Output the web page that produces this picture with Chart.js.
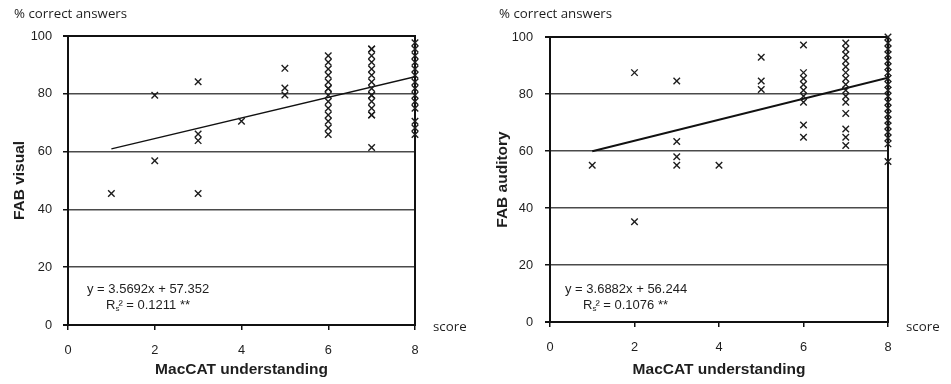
<!DOCTYPE html>
<html lang="en">
<head>
  <meta charset="UTF-8">
  <title>FAB x MacCAT</title>
  <script src="https://cdn.jsdelivr.net/npm/chart.js"></script>
  <style>
    body { margin: 0; background: #fff; }
    .painel { position: absolute; top: 0; width: 475px; height: 384px; }
    #painelVisual { left: 0; }
    #painelAuditory { left: 476px; }
  </style>
</head>
<body>

<div class="painel" id="painelVisual"><canvas id="graficoVisual" width="475" height="384"></canvas></div>
<div class="painel" id="painelAuditory"><canvas id="graficoAuditory" width="475" height="384"></canvas></div>

<script>
  // MacCAT understanding score levels (x)
  const scoreLevels = [1, 2, 3, 4, 5, 6, 7, 8];

  // FAB visual, % correct answers at each score
  const visualAtScore = [
    [45.5],
    [79.5, 56.8],
    [84.2, 66.1, 63.8, 45.5],
    [70.5],
    [88.8, 82.0, 79.6],
    [93.2, 90.9, 88.6, 86.4, 84.1, 81.8, 81.8, 79.5, 77.3, 75.0, 72.7, 70.5, 68.2, 65.9],
    [95.5, 95.5, 93.2, 90.9, 88.6, 86.4, 84.1, 81.8, 79.5, 79.5, 77.3, 75.0, 72.7, 72.7, 61.4],
    [97.7, 95.5, 93.2, 90.9, 88.6, 86.4, 84.1, 81.8, 79.5, 77.3, 75.0, 70.5, 68.2, 65.9]
  ];

  // FAB auditory, % correct answers at each score
  const auditoryAtScore = [
    [55.0],
    [87.5, 35.2],
    [84.6, 63.3, 58.0, 55.0],
    [55.0],
    [92.9, 84.6, 81.6],
    [97.2, 87.5, 85.4, 83.3, 81.3, 79.2, 77.1, 69.1, 64.8],
    [97.9, 95.8, 93.8, 91.7, 89.6, 87.5, 85.4, 83.3, 81.3, 79.2, 77.1, 73.2, 67.7, 64.8, 61.9],
    [100, 97.9, 95.8, 93.8, 91.7, 89.6, 87.5, 85.4, 83.3, 81.3, 79.2, 77.1, 75.0, 72.9, 70.8, 68.8, 66.7, 64.6, 62.5, 56.3]
  ];

  // regression lines (slope, intercept) as printed in the figure
  const visualFit = [3.5692, 57.352];
  const auditoryFit = [3.6882, 56.244];
  const fitRange = [1, 8];

  const xTicks = [0, 2, 4, 6, 8];
  const yTicks = [0, 20, 40, 60, 80, 100];

  const tinta = '#1e1e1e';

  function pontos(lista) {
    return scoreLevels.flatMap((s, i) => lista[i].map(v => ({ x: s, y: v })));
  }

  function reta(fit) {
    return fitRange.map(x => ({ x: x, y: fit[0] * x + fit[1] }));
  }

  // frame, unit labels and equation text
  const extras = {
    id: 'extras',
    beforeDatasetsDraw(chart) {
      const { ctx, chartArea: a } = chart;
      ctx.save();
      ctx.strokeStyle = '#111';
      ctx.lineWidth = 2;
      ctx.strokeRect(a.left, a.top, a.right - a.left, a.bottom - a.top);
      ctx.restore();
    },
    afterDraw(chart, args, o) {
      const { ctx, chartArea: a } = chart;
      ctx.save();
      ctx.fillStyle = tinta;
      ctx.textBaseline = 'middle';
      ctx.font = '13.3px "Open Sans"';
      ctx.fillText('% correct answers', o.unitX, 14);
      ctx.fillText('score', a.right + 18, 327);

      ctx.font = '13px "Liberation Sans", Arial';
      ctx.fillText(o.eq, a.left + o.eqX, 289);
      let x = a.left + o.rX;
      const y = 305;
      ctx.fillText('R', x, y);
      x += ctx.measureText('R').width;
      ctx.font = '8px "Liberation Sans", Arial';
      ctx.fillText('s', x, y + 4);
      x += ctx.measureText('s').width - 1;
      ctx.font = '13px "Liberation Sans", Arial';
      ctx.fillText('\u00b2 = ' + o.r2, x, y);
      ctx.restore();
    }
  };

  function criarGrafico(id, valores, fit, cfg) {
    const ctx = document.getElementById(id).getContext('2d');
    return new Chart(ctx, {
      type: 'scatter',
      data: {
        datasets: [{
          data: pontos(valores),
          clip: false,
          pointStyle: 'crossRot',
          pointRadius: 4.6,
          pointBorderWidth: 1.4,
          borderColor: tinta,
          backgroundColor: 'rgba(0,0,0,0)'
        }, {
          data: reta(fit),
          showLine: true,
          pointRadius: 0,
          borderColor: '#111',
          borderWidth: cfg.lineW
        }]
      },
      options: {
        responsive: false,
        animation: false,
        layout: { padding: { left: 0, top: cfg.top, right: cfg.right, bottom: 0 } },
        plugins: {
          legend: { display: false },
          tooltip: { enabled: false },
          extras: cfg.extras
        },
        scales: {
          x: {
            type: 'linear',
            min: 0,
            max: 8,
            afterBuildTicks: s => { s.ticks = xTicks.map(v => ({ value: v })); },
            afterFit: s => { s.height = cfg.xh; },
            grid: { drawOnChartArea: false, tickLength: 5, color: '#111', lineWidth: 1.5 },
            border: { color: '#111', width: 2 },
            ticks: { color: tinta, padding: 13, font: { family: '"Liberation Sans", Arial', size: 12.8 } },
            title: {
              display: true,
              text: 'MacCAT understanding',
              color: tinta,
              padding: { top: 0, bottom: 5 },
              font: { family: '"Liberation Sans", Arial', size: 15.5, weight: 'bold' }
            }
          },
          y: {
            min: 0,
            max: 100,
            afterBuildTicks: s => { s.ticks = yTicks.map(v => ({ value: v })); },
            afterFit: s => { s.width = cfg.yw; },
            grid: {
              color: c => (c.tick && (c.tick.value === 0 || c.tick.value === 100)) ? '#111' : '#4a4a4a',
              lineWidth: c => (c.tick && (c.tick.value === 0 || c.tick.value === 100)) ? 2 : 1.5,
              tickColor: '#111',
              tickLength: 5
            },
            border: { color: '#111', width: 2 },
            ticks: { color: tinta, padding: cfg.yPad, font: { family: '"Liberation Sans", Arial', size: 12.8 } },
            title: {
              display: true,
              text: cfg.yTitle,
              color: tinta,
              padding: { top: cfg.yTitlePad, bottom: 0 },
              font: { family: '"Liberation Sans", Arial', size: 15.5, weight: 'bold' }
            }
          }
        }
      },
      plugins: [extras]
    });
  }

  criarGrafico('graficoVisual', visualAtScore, visualFit, {
    top: 36, right: 60, xh: 59, yw: 68, yPad: 11, yTitlePad: 10.7, lineW: 1.3,
    yTitle: 'FAB visual',
    extras: { unitX: 14, eq: 'y = 3.5692x + 57.352', eqX: 19, rX: 38, r2: '0.1211 **' }
  });

  criarGrafico('graficoAuditory', auditoryAtScore, auditoryFit, {
    top: 37, right: 63, xh: 62, yw: 74, yPad: 12, yTitlePad: 17.7, lineW: 2,
    yTitle: 'FAB auditory',
    extras: { unitX: 23, eq: 'y = 3.6882x + 56.244', eqX: 15, rX: 33, r2: '0.1076 **' }
  });
</script>
</body>
</html>
